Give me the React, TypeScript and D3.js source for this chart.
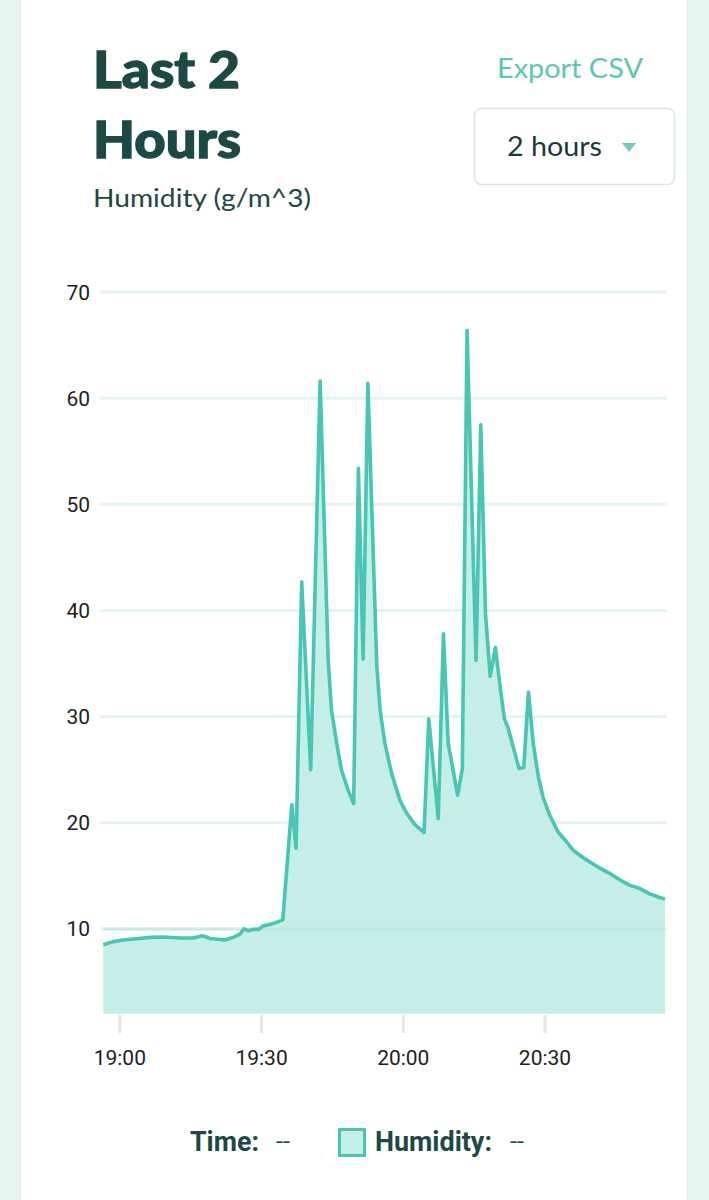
import React from 'react';
import * as d3 from 'd3';

// minutes after 19:00 (one reading per point)
const minutesAfter1900 = [
  -3.5, -1.4, 0.7, 3.5, 6.4, 9.2, 12.7, 15.5, 17.5, 19.1, 22.2, 24.0, 25.4, 26.3, 27.2, 28.2, 29.4, 30.3, 32.1, 34.5,
  36.4, 37.3, 38.5, 40.4, 42.4, 44.1, 44.8, 45.9, 46.9, 48.3, 49.5, 50.5, 51.5, 52.5, 54.4, 55.1, 56.1, 57.5, 59.3,
  60.7, 62.5, 64.4, 65.4, 67.4, 68.5, 69.5, 71.5, 72.5, 73.5, 75.4, 76.4, 77.4, 78.4, 79.5, 80.5, 81.4, 82.2, 84.5,
  85.5, 86.5, 87.5, 88.6, 89.6, 91.0, 92.8, 94.2, 96.0, 97.8, 99.5, 101.3, 103.8, 105.9, 108.0, 110.1, 112.2, 114.0, 115.4,
];
const humidity = [
  8.5, 8.8, 8.95, 9.07, 9.2, 9.23, 9.14, 9.14, 9.35, 9.1, 8.95, 9.2, 9.5, 10.0, 9.82, 9.95, 9.95, 10.27, 10.45, 10.85,
  21.7, 17.6, 42.7, 25.0, 61.6, 35.3, 30.6, 27.5, 25.0, 23.1, 21.8, 53.4, 35.4, 61.4, 34.7, 30.6, 27.5, 24.7, 22.1,
  20.9, 19.8, 19.1, 29.8, 20.4, 37.8, 27.5, 22.6, 25.1, 66.4, 35.3, 57.5, 39.7, 33.8, 36.5, 32.8, 29.8, 28.9, 25.1,
  25.2, 32.3, 27.5, 24.3, 22.4, 20.7, 19.1, 18.4, 17.4, 16.8, 16.3, 15.8, 15.2, 14.6, 14.1, 13.8, 13.3, 13.0, 12.8,
];
const yTicks = [10, 20, 30, 40, 50, 60, 70];
const xTickLabels = ['19:00', '19:30', '20:00', '20:30'];

const base = new Date(2024, 0, 1, 19, 0, 0);
const toDate = (m: number) => new Date(base.getTime() + m * 60000);

export default function App() {
  const data = minutesAfter1900.map((m, i) => ({ t: toDate(m), v: humidity[i] }));
  const x = d3
    .scaleTime()
    .domain([data[0].t, data[data.length - 1].t])
    .range([103.3, 665]);
  const y = d3.scaleLinear().domain([2, 70]).range([1013.8, 292]);
  const area = d3
    .area<{ t: Date; v: number }>()
    .x((d) => x(d.t))
    .y0(y(2))
    .y1((d) => y(d.v));
  const line = d3
    .line<{ t: Date; v: number }>()
    .x((d) => x(d.t))
    .y((d) => y(d.v));
  const xTicks = xTickLabels.map((s) => {
    const [h, mm] = s.split(':').map(Number);
    return { label: s, t: new Date(2024, 0, 1, h, mm, 0) };
  });
  const dark = '#1c4845';
  const teal = '#47c6b4';
  const head = 'Lato, "Noto Sans", sans-serif';
  const legendFont = 'Roboto, sans-serif';
  return (
    <svg width={709} height={1200} style={{ position: 'absolute', left: 0, top: 0 }}>
      <rect x={0} y={0} width={709} height={1200} fill="#e4f5f1" />
      <rect x={21} y={0} width={666} height={1200} fill="#ffffff" />
      <line x1={20.5} x2={20.5} y1={0} y2={1200} stroke="#d6ede8" />
      <line x1={687.5} x2={687.5} y1={0} y2={1200} stroke="#d6ede8" />

      <text x={93} y={88} fontFamily={head} fontWeight={900} fontSize={51} fill={dark} stroke={dark} strokeWidth={1.3} textLength={147} lengthAdjust="spacingAndGlyphs">Last 2</text>
      <text x={93} y={158} fontFamily={head} fontWeight={900} fontSize={51} fill={dark} stroke={dark} strokeWidth={1.3} textLength={148} lengthAdjust="spacingAndGlyphs">Hours</text>
      <text x={93} y={207} fontFamily={head} fontWeight={400} fontSize={25} fill={dark} textLength={218} lengthAdjust="spacingAndGlyphs">Humidity (g/m^3)</text>
      <text x={497} y={78} fontFamily={head} fontWeight={400} fontSize={26} fill="#5cc6b6" textLength={146} lengthAdjust="spacingAndGlyphs">Export CSV</text>
      <rect x={474.5} y={108.5} width={200} height={76} rx={7} fill="#fff" stroke="#d5e9e4" strokeWidth={1.5} />
      <text x={507} y={156} fontFamily={head} fontWeight={400} fontSize={27} fill="#1a3a39" textLength={95} lengthAdjust="spacingAndGlyphs">2 hours</text>
      <path d="M622,143 L636,143 L629,152 Z" fill="#6dcbbd" />

      {yTicks.map((v) => (
        <g key={v}>
          <line x1={100} x2={667} y1={y(v)} y2={y(v)} stroke="#e6f4f1" strokeWidth={3} />
          <text x={90} y={y(v)} dy="0.36em" textAnchor="end" fontFamily="Roboto, sans-serif" fontSize={21} fill="#1e1e1e">
            {v}
          </text>
        </g>
      ))}
      <path d={area(data) || ''} fill="#c4eee7" />
      <line x1={103} x2={665} y1={y(10)} y2={y(10)} stroke="#b6e6dd" strokeWidth={3} opacity={0.6} />
      <path d={line(data) || ''} fill="none" stroke={teal} strokeWidth={3.6} strokeLinejoin="round" />
      {xTicks.map((tk) => (
        <g key={tk.label}>
          <line x1={x(tk.t)} x2={x(tk.t)} y1={1015} y2={1033} stroke="#e6e6e6" strokeWidth={3} />
          <text x={x(tk.t)} y={1065} textAnchor="middle" fontFamily="Roboto, sans-serif" fontSize={21} fill="#1e1e1e">
            {tk.label}
          </text>
        </g>
      ))}

      <text x={190} y={1151} fontFamily={legendFont} fontWeight={700} fontSize={27} fill={dark} textLength={69} lengthAdjust="spacingAndGlyphs">Time:</text>
      <text x={276} y={1149} fontFamily={legendFont} fontWeight={400} fontSize={22} fill={dark} textLength={14} lengthAdjust="spacingAndGlyphs">--</text>
      <rect x={339.5} y={1129.5} width={25} height={26} fill="#c4eee7" stroke="#4cc3b2" strokeWidth={3} />
      <text x={375} y={1151} fontFamily={legendFont} fontWeight={700} fontSize={27} fill={dark} textLength={117} lengthAdjust="spacingAndGlyphs">Humidity:</text>
      <text x={510} y={1149} fontFamily={legendFont} fontWeight={400} fontSize={22} fill={dark} textLength={14} lengthAdjust="spacingAndGlyphs">--</text>
    </svg>
  );
}
